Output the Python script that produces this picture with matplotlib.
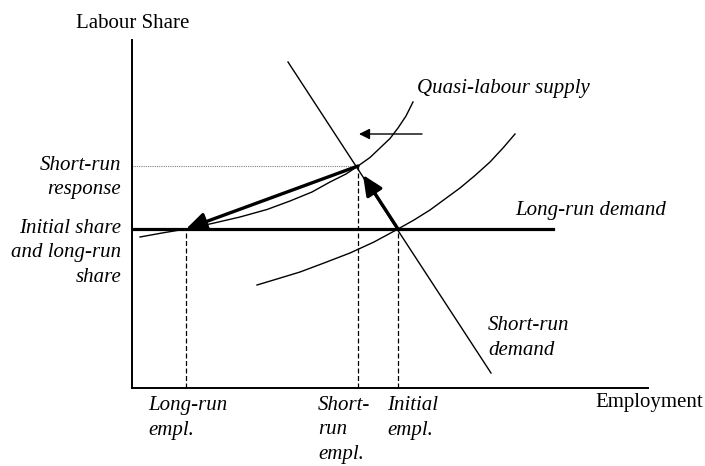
import matplotlib
matplotlib.use("Agg")
import matplotlib.pyplot as plt

plt.rcParams["font.family"] = ["Liberation Serif", "DejaVu Serif"]

# schematic coordinates (employment, labour share)
quasi_x = [8, 30, 54, 80, 108, 135, 158, 180, 198, 214, 226, 238, 248, 258, 266, 274, 281]
quasi_y = [151, 155, 159, 164.5, 171, 178.5, 187, 196, 206, 214, 222, 230.5, 240, 249.5, 260, 272, 286]
supply_x = [125, 145, 168, 192, 218, 242, 266, 282, 298, 313, 328, 343, 358, 371, 383]
supply_y = [103, 109, 116, 125, 135, 146, 159, 168, 178, 189, 200, 212.5, 226, 240, 254]
sr_demand_x = [156, 359]
sr_demand_y = [326, 15]
lr_demand_x = [0, 421]
lr_share = 159
sr_share = 222
initial_empl = 266
short_run_empl = 226
long_run_empl = 54
shift_from = (290, 254)
shift_to = (227, 254)
sr_arrow_tip = (231, 213)


def main():
    fig = plt.figure(figsize=(7.05, 4.66), dpi=100)
    ax = fig.add_axes([132 / 705, 78 / 466, 516 / 705, 348 / 466])
    ax.set_xlim(0, 516)
    ax.set_ylim(0, 348)
    for s in ["top", "right"]:
        ax.spines[s].set_visible(False)
    for s in ["left", "bottom"]:
        ax.spines[s].set_linewidth(1.4)
    ax.set_xticks([])
    ax.set_yticks([])

    # curves
    ax.plot(quasi_x, quasi_y, color="black", lw=1.0)
    ax.plot(supply_x, supply_y, color="black", lw=1.0)
    ax.plot(sr_demand_x, sr_demand_y, color="black", lw=1.0)
    ax.plot(lr_demand_x, [lr_share, lr_share], color="black", lw=2.3)

    # guide lines
    ax.plot([0, short_run_empl], [sr_share, sr_share], color="gray", lw=0.8, ls=(0, (1, 1)))
    ax.plot([long_run_empl, long_run_empl], [0, lr_share], color="black", lw=0.9, ls=(0, (4, 2)))
    ax.plot([short_run_empl, short_run_empl], [0, sr_share], color="black", lw=0.9, ls=(0, (4, 2)))
    ax.plot([initial_empl, initial_empl], [0, lr_share], color="black", lw=0.9, ls=(0, (4, 2)))

    # arrows
    ax.annotate("", xy=shift_to, xytext=shift_from,
                arrowprops=dict(arrowstyle="-|>", lw=1.0, color="black",
                                mutation_scale=16, shrinkA=0, shrinkB=0))
    ax.annotate("", xy=sr_arrow_tip, xytext=(initial_empl, lr_share),
                arrowprops=dict(arrowstyle="-|>,head_length=0.55,head_width=0.25", lw=2.4,
                                color="black", mutation_scale=22, shrinkA=0, shrinkB=0))
    ax.annotate("", xy=(long_run_empl, lr_share), xytext=(short_run_empl, sr_share),
                arrowprops=dict(arrowstyle="-|>,head_length=0.55,head_width=0.25", lw=2.4,
                                color="black", mutation_scale=22, shrinkA=0, shrinkB=0))

    fs = 15
    it = dict(fontsize=fs, style="italic", clip_on=False, linespacing=1.4)
    ax.text(-56, 365, "Labour Share", fontsize=fs, va="center", ha="left", clip_on=False)
    ax.text(463, -15, "Employment", fontsize=fs, va="center", ha="left", clip_on=False)

    ax.text(-11, 210.5, "Short-run\nresponse", ha="right", va="center", **it)
    ax.text(-11, 135, "Initial share\nand long-run\nshare", ha="right", va="center", **it)

    ax.text(285, 299, "Quasi-labour supply", ha="left", va="center", **it)
    ax.text(383, 178, "Long-run demand", ha="left", va="center", **it)
    ax.text(356, 50, "Short-run\ndemand", ha="left", va="center", **it)

    ax.text(16, -30, "Long-run\nempl.", ha="left", va="center", **it)
    ax.text(186, -42, "Short-\nrun\nempl.", ha="left", va="center", **it)
    ax.text(255, -30, "Initial\nempl.", ha="left", va="center", **it)

    fig.savefig("out.png", dpi=100)
    plt.close(fig)


if __name__ == "__main__":
    main()
